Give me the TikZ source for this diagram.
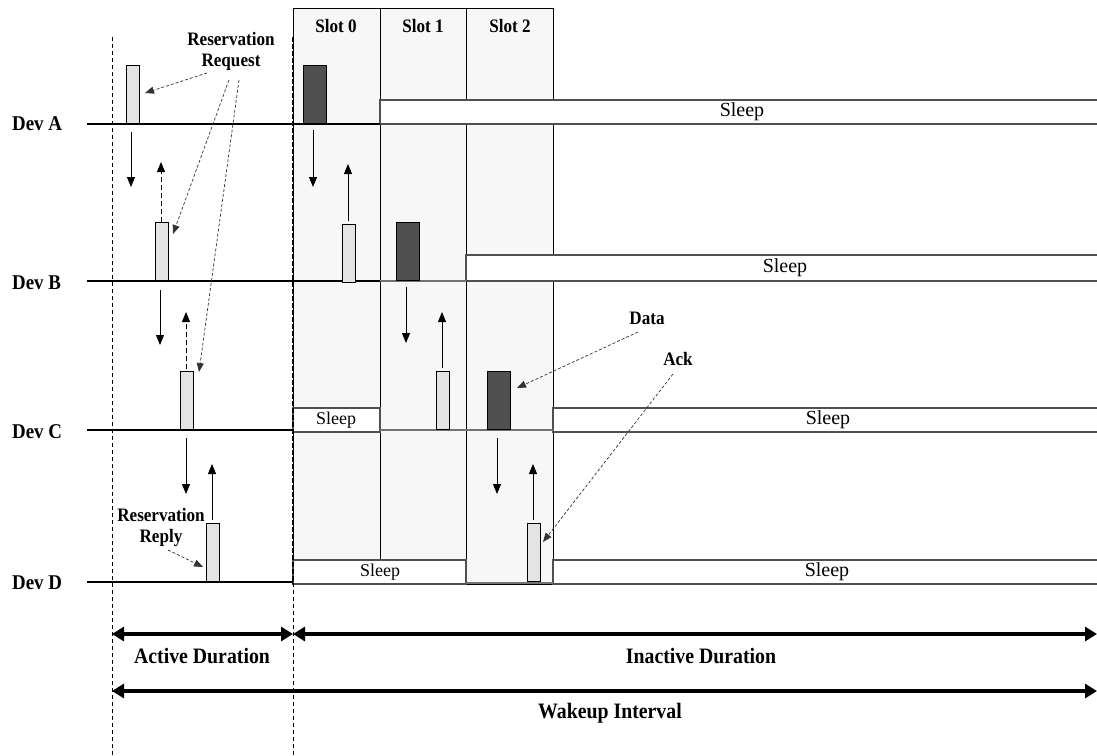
\documentclass[tikz,border=0pt]{standalone}
\usepackage{fontspec}
\setmainfont{Liberation Serif}
\newfontfamily\condfont[FakeStretch=0.9]{Liberation Serif}
\usetikzlibrary{arrows.meta}
\definecolor{slotfill}{HTML}{F7F7F7}
\definecolor{darkpkt}{HTML}{505050}
\definecolor{lightpkt}{HTML}{E4E4E4}
\definecolor{sleepline}{HTML}{505050}
\begin{document}
\begin{tikzpicture}[x=1pt,y=-1pt,
  devlabel/.style={font=\condfont\fontsize{21}{23}\selectfont\bfseries, anchor=west, inner sep=0},
  lbl/.style={font=\condfont\fontsize{19}{21}\selectfont\bfseries, align=center, inner sep=0},
  bigl/.style={font=\condfont\fontsize{22}{24}\selectfont\bfseries, inner sep=0},
  sleeptxt/.style={font=\fontsize{18}{20}\selectfont, inner sep=0},
  bigsleep/.style={font=\fontsize{20}{22}\selectfont, inner sep=0},
  reqpkt/.style={draw=black, fill=lightpkt, line width=0.8pt, minimum width=13pt, minimum height=58pt, inner sep=0, anchor=south west},
  datapkt/.style={draw=black, fill=darkpkt, line width=0.8pt, minimum width=23pt, minimum height=58pt, inner sep=0, anchor=south west},
  msg/.style={line width=0.9pt, -{Triangle[length=10pt,width=8pt]}},
  dmsg/.style={msg, dash pattern=on 5pt off 3pt},
  callout/.style={line width=0.7pt, dash pattern=on 3pt off 2pt, draw=black!80, -{Triangle[length=9pt,width=7pt]}},
  devline/.style={line width=2pt},
  grayline/.style={line width=1.6pt, draw=sleepline!80},
  slotcol/.style={draw=black, line width=0.8pt, fill=slotfill},
  sleepfill/.style={fill=white},
  sleepedge/.style={line width=1.3pt, draw=sleepline},
  spanarrow/.style={line width=4pt, {Triangle[length=12pt,width=14pt]}-{Triangle[length=12pt,width=14pt]}},
  guide/.style={line width=0.7pt, dash pattern=on 4pt off 3pt},
]
\useasboundingbox (0,0) rectangle (1097,755);
\fill[white] (0,0) rectangle (1097,755);

% slot columns
\draw[slotcol] (293,8) rectangle (380,560);
\draw[slotcol] (380,8) rectangle (466,560);
\draw[slotcol] (466,8) rectangle (553,584);
\node[lbl] (s0) at (336,26) {Slot 0};
\node[lbl] (s1) at (423,26) {Slot 1};
\node[lbl] (s2) at (510,26) {Slot 2};

% sleep boxes
\fill[sleepfill] (380,100) rectangle (1097,124);
\draw[sleepedge] (1097,100) -- (380,100) -- (380,124) -- (1097,124);
\node[bigsleep] (slA) at (742,112) {Sleep};

\fill[sleepfill] (466,255) rectangle (1097,281);
\draw[sleepedge] (1097,255) -- (466,255) -- (466,281) -- (1097,281);
\node[bigsleep] (slB) at (785,268) {Sleep};

\fill[sleepfill] (293,408) rectangle (380,432);
\draw[sleepedge] (293,408) rectangle (380,432);
\node[sleeptxt] (slC1) at (336,420) {Sleep};
\fill[sleepfill] (553,408) rectangle (1097,432);
\draw[sleepedge] (1097,408) -- (553,408) -- (553,432) -- (1097,432);
\node[bigsleep] (slC2) at (828,420) {Sleep};

\fill[sleepfill] (293,560) rectangle (466,584);
\draw[sleepedge] (293,560) rectangle (466,584);
\node[sleeptxt] (slD1) at (380,572) {Sleep};
\fill[sleepfill] (553,560) rectangle (1097,584);
\draw[sleepedge] (1097,560) -- (553,560) -- (553,584) -- (1097,584);
\node[bigsleep] (slD2) at (827,572) {Sleep};

% device lines
\draw[devline] (87,124) -- (380,124);
\draw[devline] (87,281) -- (380,281);
\draw[grayline] (380,281) -- (466,281);
\draw[devline] (87,430) -- (293,430);
\draw[grayline] (380,430) -- (553,430);
\draw[devline] (87,582) -- (293,582);
\draw[grayline] (466,583) -- (553,583);

% device labels
\node[devlabel] (devA) at (12,124) {Dev A};
\node[devlabel] (devB) at (12,283) {Dev B};
\node[devlabel] (devC) at (12,432) {Dev C};
\node[devlabel] (devD) at (12,583) {Dev D};

% dashed guides
\draw[guide] (112,37) -- (112,755);
\draw[guide] (293,37) -- (293,755);
\draw[line width=1.6pt, dash pattern=on 5pt off 2pt] (293,37) -- (293,584);

% packets
\node[reqpkt] (rA) at (126,124) {};
\node[reqpkt] (rB) at (155,281) {};
\node[reqpkt] (rC) at (180,430) {};
\node[reqpkt] (rD) at (206,582) {};
\node[datapkt] (dA) at (303,124) {};
\node[reqpkt] (aB) at (342,283) {};
\node[datapkt] (dB) at (396,281) {};
\node[reqpkt] (aC) at (436,430) {};
\node[datapkt] (dC) at (487,430) {};
\node[reqpkt] (aD) at (527,582) {};

% messages, active duration
\draw[msg] (131,132) -- (131,187);
\draw[dmsg] (161,222) -- (161,162);
\draw[msg] (160,290) -- (160,345);
\draw[dmsg] (186,369) -- (186,312);
\draw[msg] (186,438) -- (186,494);
\draw[msg] (212,520) -- (212,464);
% slot 0
\draw[msg] (313,130) -- (313,187);
\draw[msg] (348,221) -- (348,164);
% slot 1
\draw[msg] (406,287) -- (406,343);
\draw[msg] (442,368) -- (442,312);
% slot 2
\draw[msg] (497,438) -- (497,494);
\draw[msg] (533,520) -- (533,464);

% callouts
\node[lbl] (req) at (231,51) {Reservation\\Request};
\coordinate (q1) at (207,73);
\coordinate (q2) at (229,80);
\coordinate (q3) at (239,80);
\coordinate (t1) at (145,93);
\coordinate (t2) at (173,234);
\coordinate (t3) at (199,372);
\draw[callout] (q1) -- (t1);
\draw[callout] (q2) -- (t2);
\draw[callout] (q3) -- (t3);

\node[lbl] (rep) at (161,527) {Reservation\\Reply};
\coordinate (p1) at (168,550);
\coordinate (pt) at (203,567);
\draw[callout] (p1) -- (pt);

\node[lbl] (data) at (647,318) {Data};
\coordinate (d1) at (638,332);
\coordinate (dt) at (517,388);
\draw[callout] (d1) -- (dt);

\node[lbl] (ack) at (678,359) {Ack};
\coordinate (k1) at (673,374);
\coordinate (kt) at (543,542);
\draw[callout] (k1) -- (kt);

% spans
\coordinate (aL) at (112,634);
\coordinate (aM) at (293,634);
\coordinate (aR) at (1097,634);
\coordinate (wL) at (112,691);
\coordinate (wR) at (1097,691);
\draw[spanarrow] (aL) -- (aM);
\draw[spanarrow] (aM) -- (aR);
\draw[spanarrow] (wL) -- (wR);
\node[bigl] (act) at (202,656) {Active Duration};
\node[bigl] (inact) at (701,656) {Inactive Duration};
\node[bigl] (wake) at (610,713) {Wakeup Interval};
\end{tikzpicture}
\end{document}
